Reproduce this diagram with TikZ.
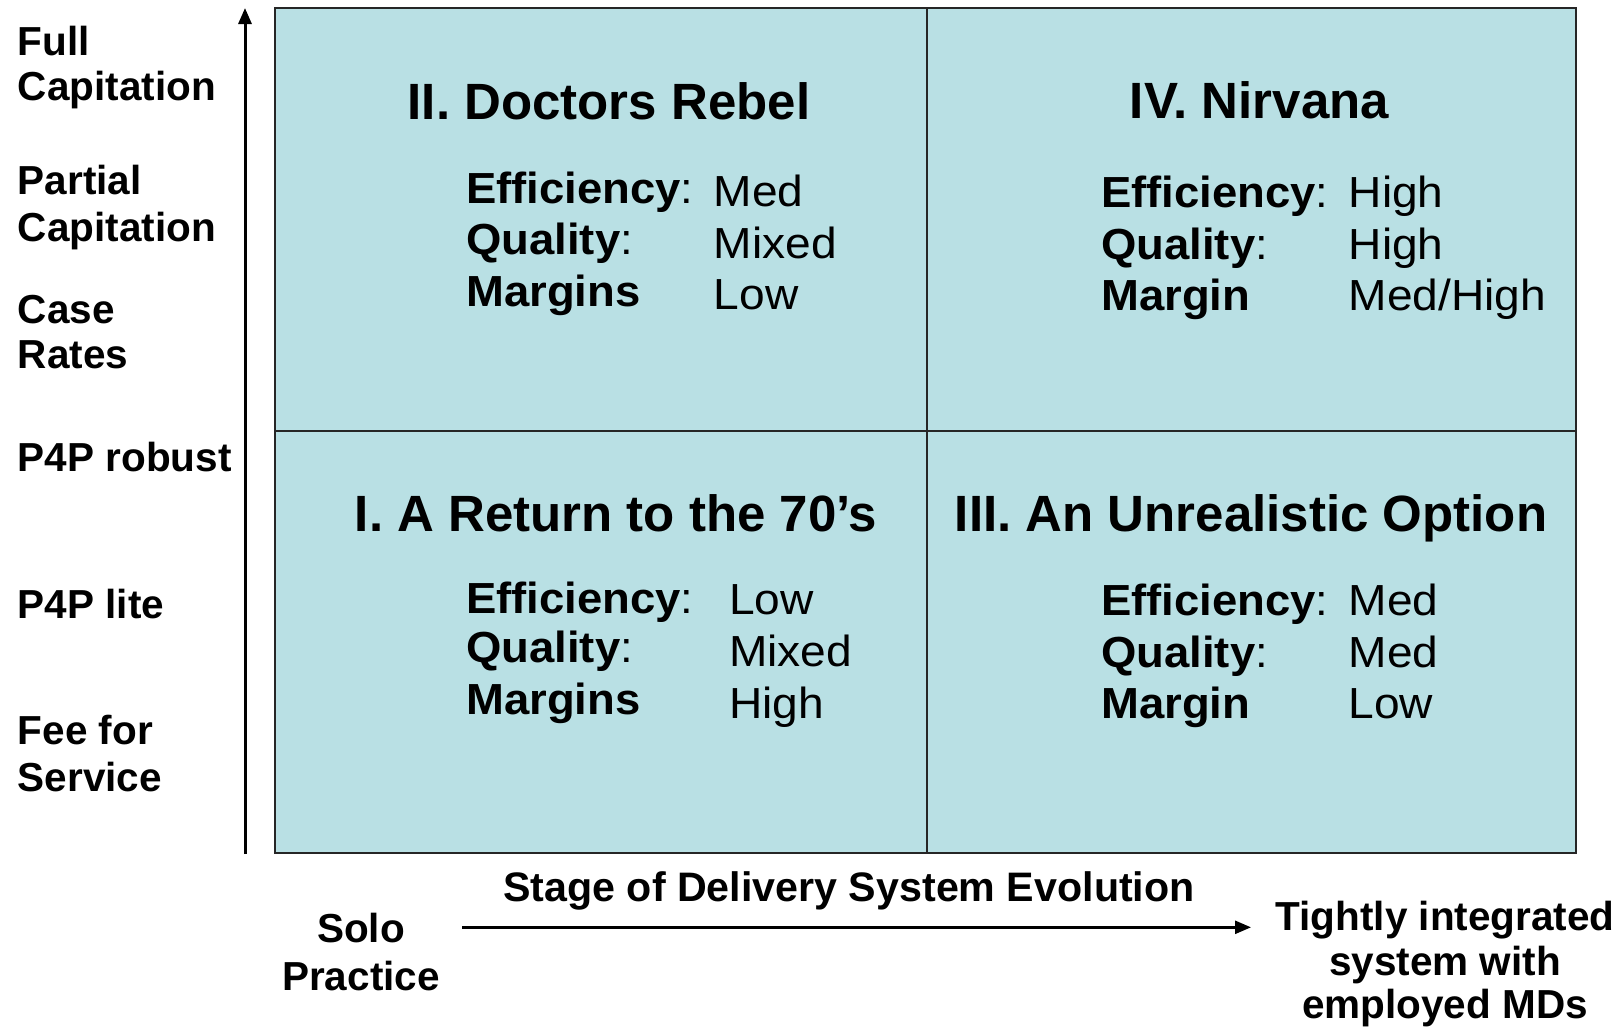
\documentclass[tikz,border=0pt]{standalone}
\usepackage{fontspec}
\setmainfont{Liberation Sans}
\newfontfamily\keyfont{Liberation Sans}[FakeStretch=1.045]
\newfontfamily\valfont{Liberation Sans}[FakeStretch=1.06]
\usetikzlibrary{arrows.meta}
\definecolor{quad}{RGB}{185,224,228}
\begin{document}
\begin{tikzpicture}[x=1pt,y=-1pt,
  axislbl/.style={font=\fontsize{40.5}{44}\selectfont\bfseries, anchor=base west, inner sep=0},
  botlbl/.style={font=\fontsize{40.5}{44}\selectfont\bfseries, anchor=base, inner sep=0},
  qtitle/.style={font=\fontsize{51}{56}\selectfont\bfseries, anchor=base, inner sep=0},
  key/.style={font=\keyfont\fontsize{43.5}{48}\selectfont, anchor=base west, inner sep=0},
  val/.style={font=\valfont\fontsize{43.5}{48}\selectfont, anchor=base west, inner sep=0},
  quadbox/.style={fill=quad, draw=black!85, line width=2pt, inner sep=0, outer sep=0, anchor=north west},
  axisarrow/.style={line width=3pt, -{Triangle[length=16pt,width=13pt]}}
]
\useasboundingbox (0,0) rectangle (1624,1026);

% quadrants
\node[quadbox, minimum width=652, minimum height=423] (q2) at (275,8.3) {};
\node[quadbox, minimum width=649, minimum height=423] (q4) at (927,8.3) {};
\node[quadbox, minimum width=652, minimum height=422] (q1) at (275,431.3) {};
\node[quadbox, minimum width=649, minimum height=422] (q3) at (927,431.3) {};

% vertical axis
\coordinate (vb) at (245,854);
\coordinate (vt) at (245,8);
\draw[axisarrow] (vb) -- (vt);

% horizontal axis
\coordinate (hs) at (462,927.3);
\coordinate (he) at (1251,927.3);
\draw[line width=2.5pt, -{Triangle[length=16pt,width=13pt]}] (hs) -- (he);

% left labels
\node[axislbl] (l1) at (17.6,55) {Full};
\node[axislbl] (l2) at (17.6,100) {Capitation};
\node[axislbl] (l3) at (17.6,194.5) {Partial};
\node[axislbl] (l4) at (17.6,241) {Capitation};
\node[axislbl] (l5) at (17.6,323) {Case};
\node[axislbl] (l6) at (17.6,368.5) {Rates};
\node[axislbl] (l7) at (17.6,471) {P4P robust};
\node[axislbl] (l8) at (17.6,618) {P4P lite};
\node[axislbl] (l9) at (17.6,744.5) {Fee for};
\node[axislbl] (l10) at (17.6,791) {Service};

% bottom labels
\node[botlbl, font=\fontsize{41.2}{44}\selectfont\bfseries] (stage) at (849,901.7) {Stage of Delivery System Evolution};
\node[botlbl] (solo1) at (361,942.7) {Solo};
\node[botlbl] (solo2) at (361,990) {Practice};
\node[botlbl] (tight1) at (1445,930) {Tightly integrated};
\node[botlbl] (tight2) at (1445,975) {system with};
\node[botlbl] (tight3) at (1445,1018) {employed MDs};

% quadrant II
\node[qtitle] (t2) at (609,119.5) {II. Doctors Rebel};
\node[key] (k2a) at (466,203) {\textbf{Efficiency}:};
\node[key] (k2b) at (466,254.6) {\textbf{Quality}:};
\node[key] (k2c) at (466,306.6) {\textbf{Margins}};
\node[val] (v2a) at (713.6,206) {Med};
\node[val] (v2b) at (713.6,258) {Mixed};
\node[val] (v2c) at (713.6,309.6) {Low};

% quadrant IV
\node[qtitle] (t4) at (1259.4,118.8) {IV. Nirvana};
\node[key] (k4a) at (1101,207.2) {\textbf{Efficiency}:};
\node[key] (k4b) at (1101,259) {\textbf{Quality}:};
\node[key] (k4c) at (1101,310.8) {\textbf{Margin}};
\node[val] (v4a) at (1348.5,207.2) {High};
\node[val] (v4b) at (1348.5,259) {High};
\node[val] (v4c) at (1348.5,310.8) {Med/High};

% quadrant I
\node[qtitle] (t1) at (616,531) {I. A Return to the 70’s};
\node[key] (k1a) at (466,613.2) {\textbf{Efficiency}:};
\node[key] (k1b) at (466,662.9) {\textbf{Quality}:};
\node[key] (k1c) at (466,714.6) {\textbf{Margins}};
\node[val] (v1a) at (729,614.2) {Low};
\node[val] (v1b) at (729,666) {Mixed};
\node[val] (v1c) at (729,718.6) {High};

% quadrant III
\node[qtitle] (t3) at (1251,531) {III. An Unrealistic Option};
\node[key] (k3a) at (1101,615.3) {\textbf{Efficiency}:};
\node[key] (k3b) at (1101,667.1) {\textbf{Quality}:};
\node[key] (k3c) at (1101,718.8) {\textbf{Margin}};
\node[val] (v3a) at (1348.5,615.3) {Med};
\node[val] (v3b) at (1348.5,667.1) {Med};
\node[val] (v3c) at (1348.5,718.8) {Low};
\end{tikzpicture}
\end{document}
